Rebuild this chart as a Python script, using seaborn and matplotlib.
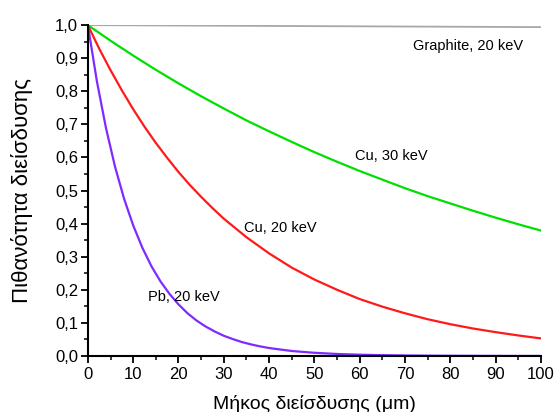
import matplotlib
matplotlib.use("Agg")
import matplotlib.pyplot as plt
import seaborn as sns
import pandas as pd
from matplotlib.ticker import MultipleLocator, FixedLocator, FixedFormatter

# ---- data ----
x5 = [0, 5, 10, 15, 20, 25, 30, 35, 40, 45, 50, 55, 60, 65, 70, 75, 80, 85, 90, 95, 100]
cu30 = [1.000, 0.953, 0.908, 0.865, 0.824, 0.785, 0.748, 0.712, 0.679, 0.647, 0.616,
        0.587, 0.559, 0.533, 0.507, 0.483, 0.461, 0.439, 0.418, 0.398, 0.379]
x_cu20 = [0, 2.5, 5, 7.5, 10, 12.5, 15, 17.5, 20, 22.5, 25, 27.5, 30, 35, 40, 45, 50,
          55, 60, 65, 70, 75, 80, 85, 90, 95, 100]
cu20 = [1.000, 0.929, 0.864, 0.803, 0.746, 0.693, 0.644, 0.599, 0.556, 0.517, 0.481,
        0.447, 0.415, 0.359, 0.310, 0.267, 0.231, 0.200, 0.172, 0.149, 0.129, 0.111,
        0.096, 0.083, 0.072, 0.062, 0.053]
x_pb = [0, 2, 4, 6, 8, 10, 12, 14, 16, 18, 20, 22, 24, 26, 28, 30, 32, 34, 36, 38, 40,
        45, 50, 55, 60, 65, 70, 75, 80, 85, 90, 95, 100]
pb20 = [1.000, 0.830, 0.689, 0.572, 0.475, 0.395, 0.328, 0.272, 0.226, 0.188, 0.156,
        0.129, 0.107, 0.089, 0.074, 0.061, 0.051, 0.042, 0.035, 0.029, 0.024,
        0.015, 0.0096, 0.0060, 0.0038, 0.0024, 0.0015, 0.0009, 0.0006, 0.0004, 0.0002,
        0.0001, 0.0001]
x_gr = [0, 50, 100]
graphite = [1.000, 0.997, 0.994]

labels = ["Graphite, 20 keV", "Cu, 30 keV", "Cu, 20 keV", "Pb, 20 keV"]
label_x = [71.8, 59.0, 34.5, 13.3]
label_y = [0.938, 0.604, 0.387, 0.178]

xticks = [0, 10, 20, 30, 40, 50, 60, 70, 80, 90, 100]
yticks = [0.0, 0.1, 0.2, 0.3, 0.4, 0.5, 0.6, 0.7, 0.8, 0.9, 1.0]
ytick_labels = ["0,0", "0,1", "0,2", "0,3", "0,4", "0,5", "0,6", "0,7", "0,8", "0,9", "1,0"]

xlabel = "Μήκος διείσδυσης (μm)"
ylabel = "Πιθανότητα διείσδυσης"

# ---- plot ----
sns.set_style("ticks")
plt.rcParams["font.family"] = ["Liberation Sans", "DejaVu Sans"]

fig = plt.figure(figsize=(5.56, 4.12), dpi=100)
ax = fig.add_axes([0.158, 0.136, 0.815, 0.803])

sns.lineplot(x=x_gr, y=graphite, ax=ax, color="#a8a8a8", linewidth=1.3)
sns.lineplot(x=x5, y=cu30, ax=ax, color="#00e000", linewidth=1.6)
sns.lineplot(x=x_cu20, y=cu20, ax=ax, color="#ff1a1a", linewidth=1.6)
sns.lineplot(x=x_pb, y=pb20, ax=ax, color="#7f2aff", linewidth=1.6)

for t, tx, ty in zip(labels, label_x, label_y):
    ax.text(tx, ty, t, ha="left", va="center", fontsize=10.5, color="black")

ax.set_xlim(0, 100)
ax.set_ylim(0, 1.0)
ax.xaxis.set_major_locator(FixedLocator(xticks))
ax.xaxis.set_minor_locator(MultipleLocator(5))
ax.yaxis.set_major_locator(FixedLocator(yticks))
ax.yaxis.set_major_formatter(FixedFormatter(ytick_labels))
ax.yaxis.set_minor_locator(MultipleLocator(0.05))

for side in ["top", "right"]:
    ax.spines[side].set_visible(False)
for side in ["left", "bottom"]:
    ax.spines[side].set_linewidth(1.5)
    ax.spines[side].set_color("black")

ax.tick_params(which="major", direction="out", length=5, width=1.3, labelsize=12,
               colors="black", labelcolor="black")
ax.tick_params(axis="x", which="major", pad=3)
ax.tick_params(axis="y", which="major", pad=2)
ax.tick_params(which="minor", direction="out", length=3, width=1.1, colors="black")

ax.set_xlabel(xlabel, fontsize=14, labelpad=9, color="black")
ax.set_ylabel(ylabel, fontsize=16, labelpad=16, color="black")

fig.savefig("out.png", dpi=100)
